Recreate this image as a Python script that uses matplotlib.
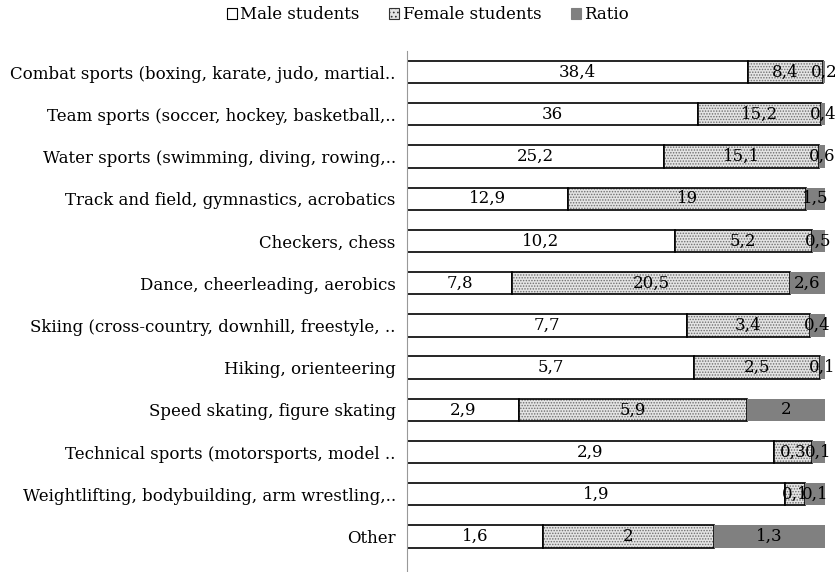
import numpy as np
import matplotlib.pyplot as plt
from matplotlib.patches import Patch

plt.rcParams["font.family"] = ["DejaVu Serif"]
plt.rcParams["hatch.linewidth"] = 0.7

categories = [
    "Combat sports (boxing, karate, judo, martial..",
    "Team sports (soccer, hockey, basketball,..",
    "Water sports (swimming, diving, rowing,..",
    "Track and field, gymnastics, acrobatics",
    "Checkers, chess",
    "Dance, cheerleading, aerobics",
    "Skiing (cross-country, downhill, freestyle, ..",
    "Hiking, orienteering",
    "Speed skating, figure skating",
    "Technical sports (motorsports, model ..",
    "Weightlifting, bodybuilding, arm wrestling,..",
    "Other",
]
male = [38.4, 36, 25.2, 12.9, 10.2, 7.8, 7.7, 5.7, 2.9, 2.9, 1.9, 1.6]
female = [8.4, 15.2, 15.1, 19, 5.2, 20.5, 3.4, 2.5, 5.9, 0.3, 0.1, 2]
ratio = [0.2, 0.4, 0.6, 1.5, 0.5, 2.6, 0.4, 0.1, 2, 0.1, 0.1, 1.3]

male = np.array(male)
female = np.array(female)
ratio = np.array(ratio)
total = male + female + ratio
m_sh = male / total
f_sh = female / total
r_sh = ratio / total
y = np.arange(len(categories))


def fmt(v):
    return ("%g" % v).replace(".", ",")


fig = plt.figure(figsize=(8.39, 5.72), dpi=100)
ax = fig.add_axes([0.485, 0.0, 0.498, 0.911])

h = 0.53
ax.barh(y, m_sh, height=h, color="white", edgecolor="black", linewidth=1.2)
ax.barh(y, f_sh, left=m_sh, height=h, color="#e4e4e4", edgecolor="#6e6e6e",
        hatch="......", linewidth=0)
ax.barh(y, f_sh, left=m_sh, height=h, fill=False, edgecolor="black", linewidth=1.2)
ax.barh(y, r_sh, left=m_sh + f_sh, height=h, color="#808080", linewidth=0)

fs = 12
for i in range(len(y)):
    ax.text(m_sh[i] / 2, y[i], fmt(male[i]), ha="center", va="center", fontsize=fs)
    ax.text(m_sh[i] + f_sh[i] / 2, y[i], fmt(female[i]), ha="center", va="center",
            fontsize=fs)
    ax.text(m_sh[i] + f_sh[i] + r_sh[i] / 2, y[i], fmt(ratio[i]), ha="center",
            va="center", fontsize=fs)

ax.set_xlim(0, 1)
ax.set_ylim(11.84, -0.5)
ax.set_yticks(y)
ax.set_yticklabels(categories, fontsize=fs)
ax.tick_params(axis="y", length=0, pad=8)
ax.set_xticks([])
for s in ["top", "right", "bottom"]:
    ax.spines[s].set_visible(False)
ax.spines["left"].set_color("#999999")

handles = [
    Patch(facecolor="white", edgecolor="black", linewidth=0.8),
    Patch(facecolor="#e4e4e4", edgecolor="#333333", hatch="....", linewidth=0.8),
    Patch(facecolor="#808080", edgecolor="#808080", linewidth=0.8),
]
fig.legend(handles, ["Male students", "Female students", "Ratio"], loc="center",
           bbox_to_anchor=(0.51, 0.974), ncol=3, frameon=False, fontsize=fs,
           handlelength=0.6, handleheight=0.6, handletextpad=0.2, columnspacing=1.8)

fig.savefig("out.png", dpi=100)
